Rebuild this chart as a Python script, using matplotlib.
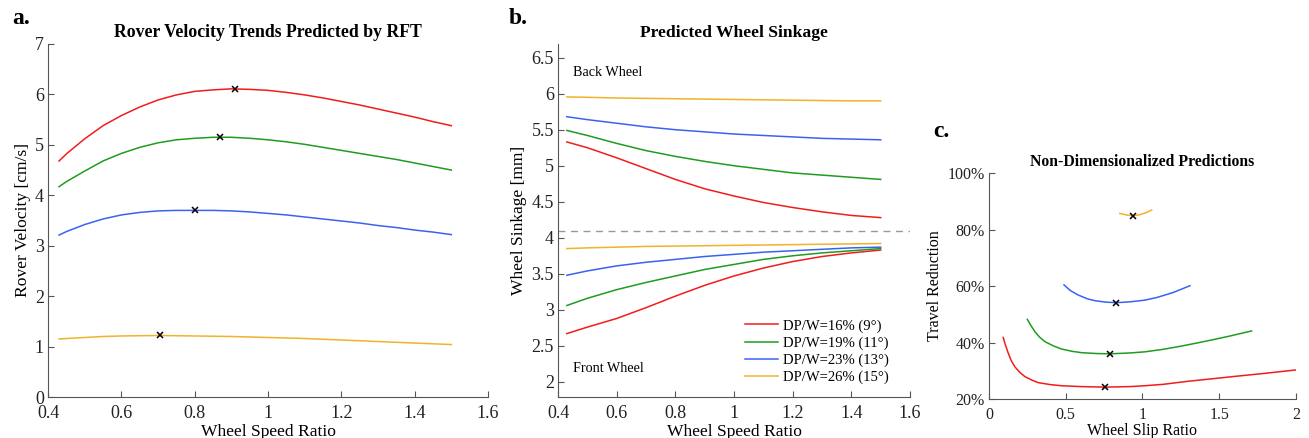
import matplotlib
matplotlib.use("Agg")
import matplotlib.pyplot as plt
from matplotlib.ticker import FuncFormatter

plt.rcParams['font.family'] = ['Liberation Serif', 'DejaVu Serif']

# ---------------- data ----------------
labels = ["DP/W=16% (9°)", "DP/W=19% (11°)", "DP/W=23% (13°)", "DP/W=26% (15°)"]
colors = ["#f21c1c", "#1f9c1f", "#3a62f2", "#f2b22a"]

# Panel a: rover velocity vs wheel speed ratio
speed_x = [0.43, 0.45, 0.50, 0.55, 0.60, 0.65, 0.70, 0.75, 0.80, 0.85, 0.90, 0.95,
           1.00, 1.05, 1.10, 1.15, 1.20, 1.25, 1.30, 1.35, 1.40, 1.45, 1.50]
vel_16 = [4.68, 4.82, 5.12, 5.38, 5.58, 5.75, 5.89, 5.99, 6.06, 6.09, 6.11, 6.10,
          6.08, 6.04, 5.99, 5.93, 5.86, 5.79, 5.71, 5.63, 5.55, 5.46, 5.38]
vel_19 = [4.17, 4.27, 4.48, 4.68, 4.83, 4.95, 5.04, 5.10, 5.13, 5.15, 5.15, 5.13,
          5.10, 5.06, 5.01, 4.95, 4.89, 4.83, 4.77, 4.71, 4.64, 4.57, 4.50]
vel_23 = [3.21, 3.28, 3.42, 3.53, 3.61, 3.66, 3.69, 3.70, 3.70, 3.70, 3.69, 3.67,
          3.64, 3.61, 3.57, 3.53, 3.49, 3.45, 3.40, 3.36, 3.31, 3.27, 3.22]
vel_26 = [1.15, 1.16, 1.18, 1.20, 1.21, 1.215, 1.22, 1.215, 1.21, 1.205, 1.20, 1.19,
          1.18, 1.17, 1.16, 1.145, 1.13, 1.115, 1.10, 1.085, 1.07, 1.055, 1.04]
vel_peak_x = [0.91, 0.87, 0.80, 0.705]
vel_peak_y = [6.11, 5.15, 3.70, 1.22]

# Panel b: wheel sinkage vs wheel speed ratio
sink_x = [0.43, 0.50, 0.60, 0.70, 0.80, 0.90, 1.00, 1.10, 1.20, 1.30, 1.40, 1.50]
back_16 = [5.33, 5.25, 5.11, 4.96, 4.81, 4.68, 4.58, 4.49, 4.42, 4.36, 4.31, 4.28]
back_19 = [5.49, 5.42, 5.31, 5.21, 5.13, 5.06, 5.00, 4.95, 4.90, 4.87, 4.84, 4.81]
back_23 = [5.68, 5.64, 5.59, 5.54, 5.50, 5.47, 5.44, 5.42, 5.40, 5.38, 5.37, 5.36]
back_26 = [5.955, 5.95, 5.94, 5.935, 5.93, 5.925, 5.92, 5.915, 5.91, 5.905, 5.90, 5.90]
front_16 = [2.67, 2.76, 2.88, 3.03, 3.19, 3.34, 3.47, 3.58, 3.67, 3.74, 3.79, 3.83]
front_19 = [3.06, 3.16, 3.28, 3.38, 3.47, 3.56, 3.63, 3.70, 3.75, 3.79, 3.82, 3.85]
front_23 = [3.48, 3.54, 3.61, 3.66, 3.70, 3.74, 3.77, 3.80, 3.82, 3.84, 3.86, 3.87]
front_26 = [3.85, 3.86, 3.87, 3.88, 3.885, 3.89, 3.895, 3.90, 3.905, 3.91, 3.915, 3.92]
sink_threshold = 4.1

# Panel c: travel reduction vs wheel slip ratio
slip_16 = [0.093, 0.105, 0.126, 0.145, 0.169, 0.20, 0.235, 0.28, 0.321, 0.40, 0.473,
           0.60, 0.756, 0.919, 1.016, 1.136, 1.30, 1.461, 1.60, 1.80, 2.00]
tr_16 = [41.8, 39.5, 36.2, 33.6, 31.4, 29.5, 27.9, 26.7, 25.8, 25.1, 24.7,
         24.4, 24.2, 24.4, 24.7, 25.2, 26.3, 27.2, 28.0, 29.1, 30.3]
slip_19 = [0.25, 0.27, 0.30, 0.33, 0.365, 0.42, 0.473, 0.54, 0.604, 0.70, 0.788,
           0.919, 1.016, 1.136, 1.25, 1.353, 1.46, 1.57, 1.711]
tr_19 = [48.2, 46.3, 43.8, 41.9, 40.3, 38.8, 37.7, 36.9, 36.4, 36.1, 36.0,
         36.3, 36.7, 37.6, 38.7, 39.8, 41.0, 42.3, 44.1]
slip_23 = [0.489, 0.53, 0.582, 0.64, 0.691, 0.76, 0.83, 0.919, 1.016, 1.092, 1.20, 1.31]
tr_23 = [60.4, 58.4, 56.8, 55.5, 54.8, 54.3, 54.1, 54.4, 55.0, 55.9, 57.7, 60.1]
slip_26 = [0.853, 0.90, 0.94, 0.98, 1.02, 1.06]
tr_26 = [85.7, 85.1, 84.9, 85.2, 85.9, 86.9]
tr_min_x = [0.756, 0.79, 0.83, 0.94]
tr_min_y = [24.2, 36.0, 54.1, 84.9]

# ---------------- figure ----------------
fig = plt.figure(figsize=(13.09, 4.38), dpi=100)
axA = fig.add_axes([0.0367, 0.0936, 0.3361, 0.806])
axB = fig.add_axes([0.4263, 0.0936, 0.2689, 0.806])
axC = fig.add_axes([0.7555, 0.089, 0.2345, 0.516])

spine_col = "#555555"
def style(ax, lsize=13):
    for s in ["top", "right"]:
        ax.spines[s].set_visible(False)
    for s in ["left", "bottom"]:
        ax.spines[s].set_color(spine_col)
        ax.spines[s].set_linewidth(0.8)
    ax.tick_params(direction="in", length=4, width=0.8, colors=spine_col,
                   labelcolor="#222222", labelsize=lsize)
    ax.tick_params(axis="x", pad=6)
    ax.tick_params(axis="y", pad=3)

lw = 1.1
# Panel a
for y, c in zip([vel_16, vel_19, vel_23, vel_26], colors):
    axA.plot(speed_x, y, color=c, lw=lw)
axA.plot(vel_peak_x, vel_peak_y, 'x', color='black', ms=4, mew=1.1, ls='none')
axA.set_xlim(0.4, 1.6)
axA.set_ylim(0, 7)
axA.set_xticks([0.4, 0.6, 0.8, 1.0, 1.2, 1.4, 1.6])
axA.set_xticklabels(["0.4", "0.6", "0.8", "1", "1.2", "1.4", "1.6"])
axA.set_yticks(range(0, 8))
axA.set_xlabel("Wheel Speed Ratio", fontsize=12.6, labelpad=1)
axA.set_ylabel("Rover Velocity [cm/s]", fontsize=12.6, labelpad=3)
axA.set_title("Rover Velocity Trends Predicted by RFT", fontsize=12.8, fontweight="bold", pad=5)
style(axA)

# Panel b
for yb, yf, c, lab in zip([back_16, back_19, back_23, back_26],
                          [front_16, front_19, front_23, front_26], colors, labels):
    axB.plot(sink_x, yb, color=c, lw=lw)
    axB.plot(sink_x, yf, color=c, lw=lw, label=lab)
axB.axhline(sink_threshold, color="#999999", lw=1.0, ls=(0, (5, 4)))
axB.set_xlim(0.4, 1.6)
axB.set_ylim(1.79, 6.69)
axB.set_xticks([0.4, 0.6, 0.8, 1.0, 1.2, 1.4, 1.6])
axB.set_xticklabels(["0.4", "0.6", "0.8", "1", "1.2", "1.4", "1.6"])
axB.set_yticks([2, 2.5, 3, 3.5, 4, 4.5, 5, 5.5, 6, 6.5])
axB.set_yticklabels(["2", "2.5", "3", "3.5", "4", "4.5", "5", "5.5", "6", "6.5"])
axB.set_xlabel("Wheel Speed Ratio", fontsize=12.6, labelpad=1)
axB.set_ylabel("Wheel Sinkage [mm]", fontsize=12.6, labelpad=3)
axB.set_title("Predicted Wheel Sinkage", fontsize=12.6, fontweight="bold", pad=5)
axB.text(0.45, 6.29, "Back Wheel", fontsize=10.2, va="center", ha="left")
axB.text(0.45, 2.19, "Front Wheel", fontsize=10.2, va="center", ha="left")
leg = axB.legend(loc="lower right", frameon=False, fontsize=10.5, handlelength=2.3,
                 handletextpad=0.35, labelspacing=0.25, borderaxespad=0.0,
                 bbox_to_anchor=(0.957, 0.02))
style(axB)

# Panel c
for xs, ys, c in zip([slip_16, slip_19, slip_23, slip_26],
                     [tr_16, tr_19, tr_23, tr_26], colors):
    axC.plot(xs, ys, color=c, lw=lw)
axC.plot(tr_min_x, tr_min_y, 'x', color='black', ms=4, mew=1.1, ls='none')
axC.set_xlim(0, 2)
axC.set_ylim(20, 100)
axC.set_xticks([0, 0.5, 1, 1.5, 2])
axC.set_xticklabels(["0", "0.5", "1", "1.5", "2"])
axC.set_yticks([20, 40, 60, 80, 100])
axC.yaxis.set_major_formatter(FuncFormatter(lambda v, p: f"{int(v)}%"))
axC.set_xlabel("Wheel Slip Ratio", fontsize=11.5, labelpad=0)
axC.set_ylabel("Travel Reduction", fontsize=11.5, labelpad=3)
axC.set_title("Non-Dimensionalized Predictions", fontsize=11.3, fontweight="bold", pad=5)
style(axC, lsize=11.5)

# panel letters
fig.text(0.009, 0.945, "a.", fontsize=17, fontweight="bold", va="baseline")
fig.text(0.389, 0.945, "b.", fontsize=17, fontweight="bold", va="baseline")
fig.text(0.713, 0.687, "c.", fontsize=17, fontweight="bold", va="baseline")

fig.savefig("out.png", dpi=100)
